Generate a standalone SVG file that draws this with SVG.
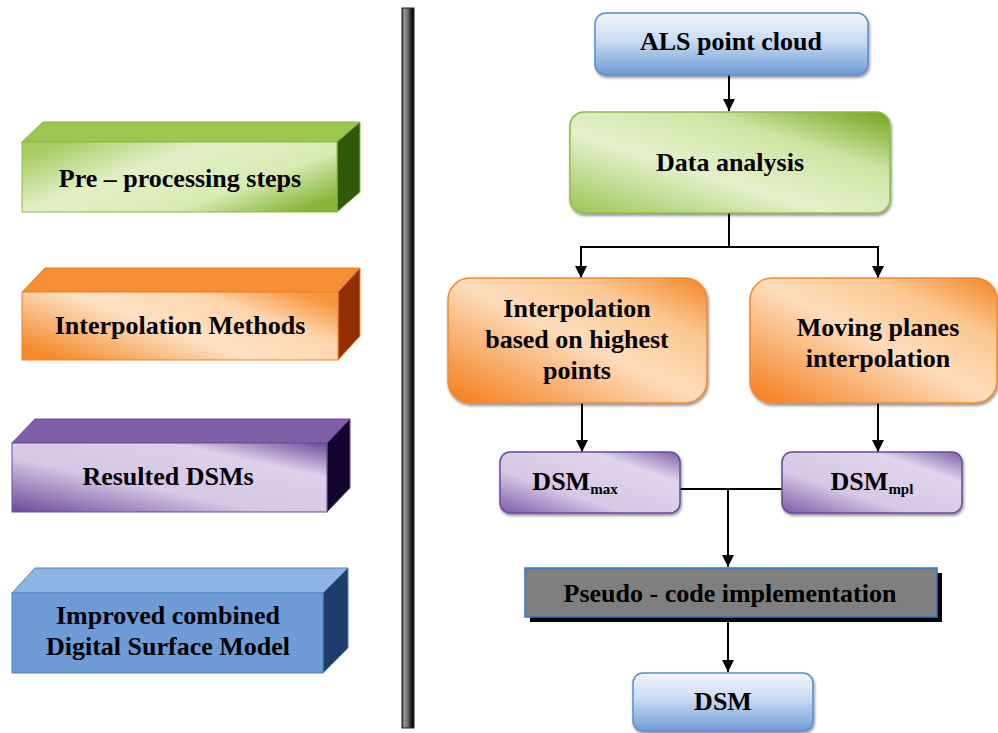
<svg xmlns="http://www.w3.org/2000/svg" width="998" height="733" viewBox="0 0 998 733">
<style>
.t{font-family:"Liberation Serif","Times New Roman",serif;font-weight:bold;font-size:26px;fill:#000;text-anchor:middle}
.sub{font-size:15px}
.c{fill:none;stroke:#000;stroke-width:2}
</style>
<defs>
<marker id="ah" viewBox="0 0 10 10" refX="10" refY="5" markerWidth="6.5" markerHeight="6" orient="auto" markerUnits="strokeWidth">
<path d="M0,0 L10,5 L0,10 z" fill="#000"/>
</marker>
<filter id="sh" x="-10%" y="-10%" width="130%" height="140%">
<feGaussianBlur in="SourceAlpha" stdDeviation="1.5"/>
<feOffset dx="1" dy="2" result="b"/>
<feComponentTransfer><feFuncA type="linear" slope="0.45"/></feComponentTransfer>
<feMerge><feMergeNode/><feMergeNode in="SourceGraphic"/></feMerge>
</filter>
<linearGradient id="gBlue" x1="0" y1="0" x2="0" y2="1">
<stop offset="0" stop-color="#f3f7fd"/>
<stop offset="0.45" stop-color="#c9dbf2"/>
<stop offset="1" stop-color="#6d9bd4"/>
</linearGradient>
<linearGradient id="gGreen" x1="0" y1="0.2" x2="1" y2="0.8">
<stop offset="0" stop-color="#a6cc62"/>
<stop offset="0.35" stop-color="#e2efc6"/>
<stop offset="0.7" stop-color="#d9eab3"/>
<stop offset="1" stop-color="#86b53a"/>
</linearGradient>
<linearGradient id="gGreenD" x1="0" y1="1" x2="1" y2="0">
<stop offset="0" stop-color="#9cc656"/>
<stop offset="0.4" stop-color="#e4f0cb"/>
<stop offset="0.7" stop-color="#cfe4a3"/>
<stop offset="1" stop-color="#72a41e"/>
</linearGradient>
<linearGradient id="gOrange" x1="0" y1="1" x2="1" y2="0">
<stop offset="0" stop-color="#f47b17"/>
<stop offset="0.5" stop-color="#fddcbb"/>
<stop offset="0.75" stop-color="#fbc892"/>
<stop offset="1" stop-color="#f58424"/>
</linearGradient>
<linearGradient id="gOrangeF" x1="0" y1="0.8" x2="1" y2="0.2">
<stop offset="0" stop-color="#f58a2c"/>
<stop offset="0.45" stop-color="#fde1c4"/>
<stop offset="0.75" stop-color="#fdd5ad"/>
<stop offset="1" stop-color="#f7963f"/>
</linearGradient>
<linearGradient id="gPurple" x1="0" y1="1" x2="1" y2="0">
<stop offset="0" stop-color="#6a4a98"/>
<stop offset="0.4" stop-color="#d6c8e6"/>
<stop offset="0.75" stop-color="#ddd0ea"/>
<stop offset="1" stop-color="#6b4a9a"/>
</linearGradient>
<linearGradient id="gPurpleF" x1="0" y1="1" x2="1" y2="0">
<stop offset="0" stop-color="#7a5aa8"/>
<stop offset="0.35" stop-color="#d6c8e6"/>
<stop offset="0.75" stop-color="#e0d4ec"/>
<stop offset="1" stop-color="#7d5ea9"/>
</linearGradient>
<linearGradient id="gBar" x1="0" y1="0" x2="1" y2="0">
<stop offset="0" stop-color="#333"/>
<stop offset="0.18" stop-color="#9a9a9a"/>
<stop offset="0.5" stop-color="#6a6a6a"/>
<stop offset="0.8" stop-color="#1a1a1a"/>
<stop offset="1" stop-color="#000"/>
</linearGradient>
</defs>

<rect id="separator" x="402" y="8" width="12" height="720" fill="url(#gBar)" stroke="#222" stroke-width="1"/>

<g id="legend-preprocessing">
<polygon points="22,142 43,122 360,122 337,142" fill="#9bc652" stroke="#86b23e" stroke-width="1"/>
<polygon points="337,142 360,122 360,192 337,212" fill="#2f5a0a" stroke="#86b23e" stroke-width="1"/>
<rect x="22" y="142" width="315" height="70" fill="url(#gGreen)" stroke="#8bb946" stroke-width="1"/>
<text class="t" x="180" y="187">Pre – processing steps</text>
</g>

<g id="legend-interpolation">
<polygon points="22,292 45,268 360,268 338,292" fill="#f68e35" stroke="#f08020" stroke-width="1"/>
<polygon points="338,292 360,268 360,336 338,360" fill="#922e02" stroke="#f08020" stroke-width="1"/>
<rect x="22" y="292" width="316" height="68" fill="url(#gOrangeF)" stroke="#f08020" stroke-width="1"/>
<text class="t" x="180" y="334">Interpolation Methods</text>
</g>

<g id="legend-dsms">
<polygon points="12,443 35,419 350,419 327,443" fill="#7f5fa8" stroke="#6a4a96" stroke-width="1"/>
<polygon points="327,443 350,419 350,488 327,512" fill="#12062e" stroke="#6a4a96" stroke-width="1"/>
<rect x="12" y="443" width="315" height="69" fill="url(#gPurple)" stroke="#6a4a96" stroke-width="1"/>
<text class="t" x="168" y="485">Resulted DSMs</text>
</g>

<g id="legend-improved">
<polygon points="12,593 35,568 348,568 323,593" fill="#8eb4e3" stroke="#4f81bd" stroke-width="1"/>
<polygon points="323,593 348,568 348,648 323,673" fill="#1f3d6b" stroke="#4f81bd" stroke-width="1"/>
<rect x="12" y="593" width="311" height="80" fill="#6f9cd6" stroke="#4f81bd" stroke-width="1"/>
<text class="t" x="168" y="624">Improved combined</text>
<text class="t" x="168" y="655">Digital Surface Model</text>
</g>

<g id="connectors">
<line class="c" x1="729" y1="75" x2="729" y2="111" marker-end="url(#ah)"/>
<polyline class="c" points="729,213 729,247"/>
<polyline class="c" points="581,247 878,247"/>
<line class="c" x1="581" y1="246" x2="581" y2="278" marker-end="url(#ah)"/>
<line class="c" x1="878" y1="246" x2="878" y2="278" marker-end="url(#ah)"/>
<line class="c" x1="582" y1="403" x2="582" y2="452" marker-end="url(#ah)"/>
<line class="c" x1="878" y1="403" x2="878" y2="452" marker-end="url(#ah)"/>
<polyline class="c" points="680,489 782,489"/>
<line class="c" x1="728" y1="489" x2="728" y2="567" marker-end="url(#ah)"/>
<line class="c" x1="728" y1="622" x2="728" y2="672" marker-end="url(#ah)"/>
</g>

<g id="als">
<rect x="595" y="13" width="273" height="62" rx="11" fill="url(#gBlue)" stroke="#5b8dcf" stroke-width="1.5" filter="url(#sh)"/>
<text class="t" x="731" y="50">ALS point cloud</text>
</g>

<g id="data-analysis">
<rect x="570" y="112" width="320" height="101" rx="14" fill="url(#gGreenD)" stroke="#8dbb4a" stroke-width="1.5" filter="url(#sh)"/>
<text class="t" x="730" y="171">Data analysis</text>
</g>

<g id="interp-highest">
<rect x="448" y="278" width="259" height="125" rx="22" fill="url(#gOrange)" stroke="#f28a30" stroke-width="1.5" filter="url(#sh)"/>
<text class="t" x="577" y="317">Interpolation</text>
<text class="t" x="577" y="348">based on highest</text>
<text class="t" x="577" y="379">points</text>
</g>

<g id="moving-planes">
<rect x="750" y="278" width="247" height="125" rx="22" fill="url(#gOrange)" stroke="#f28a30" stroke-width="1.5" filter="url(#sh)"/>
<text class="t" x="878" y="336">Moving planes</text>
<text class="t" x="878" y="367">interpolation</text>
</g>

<g id="dsm-max">
<rect x="500" y="452" width="180" height="61" rx="10" fill="url(#gPurpleF)" stroke="#6a4a96" stroke-width="1.5" filter="url(#sh)"/>
<text class="t" x="575" y="490">DSM<tspan class="sub" dy="4">max</tspan></text>
</g>

<g id="dsm-mpl">
<rect x="782" y="452" width="180" height="61" rx="10" fill="url(#gPurpleF)" stroke="#6a4a96" stroke-width="1.5" filter="url(#sh)"/>
<text class="t" x="872" y="490">DSM<tspan class="sub" dy="4">mpl</tspan></text>
</g>

<g id="pseudo-code">
<rect x="530" y="573" width="412" height="49" fill="#000"/>
<rect x="525" y="568" width="412" height="49" fill="#7f7f7f" stroke="#2e75d6" stroke-width="1.5"/>
<text class="t" x="730" y="602">Pseudo - code implementation</text>
</g>

<g id="dsm">
<rect x="633" y="673" width="180" height="58" rx="10" fill="url(#gBlue)" stroke="#5b8dcf" stroke-width="1.5" filter="url(#sh)"/>
<text class="t" x="723" y="710">DSM</text>
</g>
</svg>
